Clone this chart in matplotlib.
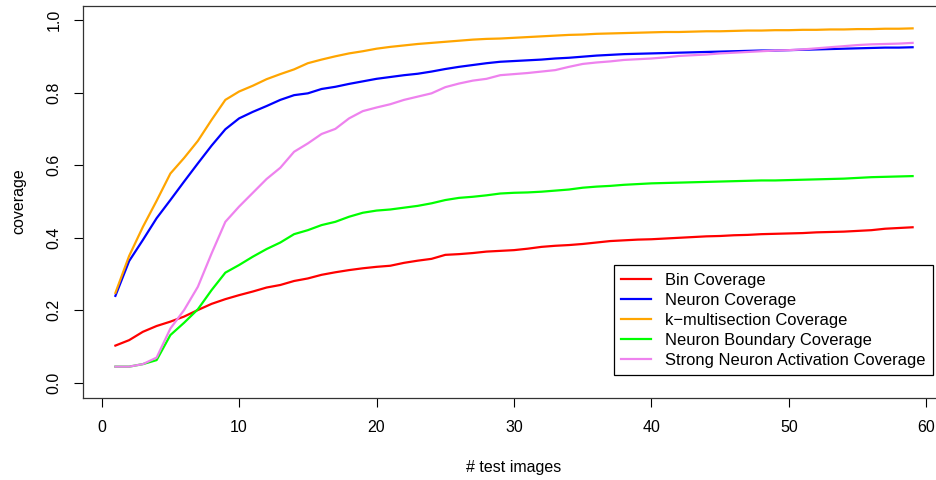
import matplotlib
matplotlib.use('Agg')
import matplotlib.pyplot as plt

# number of test images
n_images = list(range(1, 60))

bin_cov = [0.103, 0.118, 0.141, 0.157, 0.169, 0.183, 0.201, 0.218, 0.231, 0.242,
           0.252, 0.263, 0.270, 0.281, 0.288, 0.298, 0.305, 0.311, 0.316, 0.320,
           0.323, 0.331, 0.337, 0.342, 0.353, 0.355, 0.358, 0.362, 0.364, 0.366,
           0.370, 0.375, 0.378, 0.380, 0.383, 0.387, 0.391, 0.393, 0.395, 0.396,
           0.398, 0.400, 0.402, 0.404, 0.405, 0.407, 0.408, 0.410, 0.411, 0.412,
           0.413, 0.415, 0.416, 0.417, 0.419, 0.421, 0.425, 0.427, 0.429]
neuron_cov = [0.240, 0.336, 0.394, 0.454, 0.504, 0.555, 0.605, 0.654, 0.699, 0.729,
              0.747, 0.763, 0.780, 0.793, 0.798, 0.810, 0.816, 0.824, 0.831, 0.838,
              0.843, 0.848, 0.852, 0.858, 0.865, 0.871, 0.876, 0.881, 0.885, 0.887,
              0.889, 0.891, 0.894, 0.896, 0.899, 0.902, 0.904, 0.906, 0.907, 0.908,
              0.909, 0.910, 0.911, 0.912, 0.913, 0.914, 0.915, 0.916, 0.916, 0.917,
              0.918, 0.919, 0.920, 0.921, 0.922, 0.923, 0.924, 0.924, 0.925]
kmulti_cov = [0.248, 0.350, 0.430, 0.502, 0.577, 0.620, 0.667, 0.725, 0.780, 0.803,
              0.819, 0.837, 0.851, 0.864, 0.881, 0.891, 0.900, 0.908, 0.914, 0.921,
              0.926, 0.930, 0.934, 0.937, 0.940, 0.943, 0.946, 0.948, 0.949, 0.951,
              0.953, 0.955, 0.957, 0.959, 0.960, 0.962, 0.963, 0.964, 0.965, 0.966,
              0.967, 0.967, 0.968, 0.969, 0.969, 0.970, 0.971, 0.971, 0.972, 0.972,
              0.973, 0.973, 0.974, 0.974, 0.975, 0.975, 0.976, 0.976, 0.977]
boundary_cov = [0.045, 0.045, 0.052, 0.063, 0.132, 0.166, 0.203, 0.256, 0.304, 0.325,
                0.348, 0.369, 0.387, 0.410, 0.421, 0.435, 0.444, 0.458, 0.469, 0.475,
                0.478, 0.483, 0.488, 0.495, 0.504, 0.510, 0.513, 0.517, 0.522, 0.524,
                0.525, 0.527, 0.530, 0.533, 0.538, 0.541, 0.543, 0.546, 0.548, 0.550,
                0.551, 0.552, 0.553, 0.554, 0.555, 0.556, 0.557, 0.558, 0.558, 0.559,
                0.560, 0.561, 0.562, 0.563, 0.565, 0.567, 0.568, 0.569, 0.570]
strong_cov = [0.045, 0.045, 0.052, 0.070, 0.150, 0.201, 0.265, 0.357, 0.444, 0.486,
              0.524, 0.562, 0.593, 0.637, 0.660, 0.686, 0.700, 0.729, 0.749, 0.759,
              0.768, 0.780, 0.789, 0.798, 0.815, 0.825, 0.833, 0.838, 0.848, 0.851,
              0.854, 0.858, 0.862, 0.871, 0.879, 0.883, 0.886, 0.890, 0.892, 0.894,
              0.897, 0.901, 0.903, 0.905, 0.908, 0.910, 0.912, 0.914, 0.916, 0.917,
              0.919, 0.922, 0.925, 0.928, 0.931, 0.933, 0.934, 0.935, 0.937]

labels = ['Bin Coverage', 'Neuron Coverage', 'k\u2212multisection Coverage',
          'Neuron Boundary Coverage', 'Strong Neuron Activation Coverage']
colors = ['red', 'blue', 'orange', '#00ff00', 'violet']

plt.rcParams['font.family'] = ['Liberation Sans', 'DejaVu Sans']
plt.rcParams['font.size'] = 11.5

fig = plt.figure(figsize=(9.37, 4.8), dpi=100)
# R-style box, right edge runs off the picture
ax = fig.add_axes([83.5 / 937, 82.5 / 480, 861 / 937, 392 / 480])

series = [bin_cov, neuron_cov, kmulti_cov, boundary_cov, strong_cov]
for ys, c, lab in zip(series, colors, labels):
    ax.plot(n_images, ys, color=c, lw=1.6, label=lab)

ax.set_xlim(-1.32, 61.32)
ax.set_ylim(-0.04, 1.04)
ax.set_xticks([0, 10, 20, 30, 40, 50, 60])
ax.set_yticks([0.0, 0.2, 0.4, 0.6, 0.8, 1.0])
ax.set_yticklabels(['0.0', '0.2', '0.4', '0.6', '0.8', '1.0'],
                   rotation=90, va='center')
ax.tick_params(direction='out', length=6.5, width=0.8, pad=9.5)
for sp in ax.spines.values():
    sp.set_linewidth(0.9)
    sp.set_color('#333333')

ax.set_xlabel('# test images', labelpad=18)
ax.set_ylabel('coverage', labelpad=14)

leg = ax.legend(loc='lower right', bbox_to_anchor=(933 / 937, 105 / 480),
                bbox_transform=fig.transFigure, borderaxespad=0,
                fancybox=False, framealpha=1, edgecolor='black',
                handlelength=1.8, handletextpad=0.85, labelspacing=0.3,
                borderpad=0.45, fontsize=11.9)
leg.get_frame().set_linewidth(0.9)

fig.savefig('out.png', dpi=100)
